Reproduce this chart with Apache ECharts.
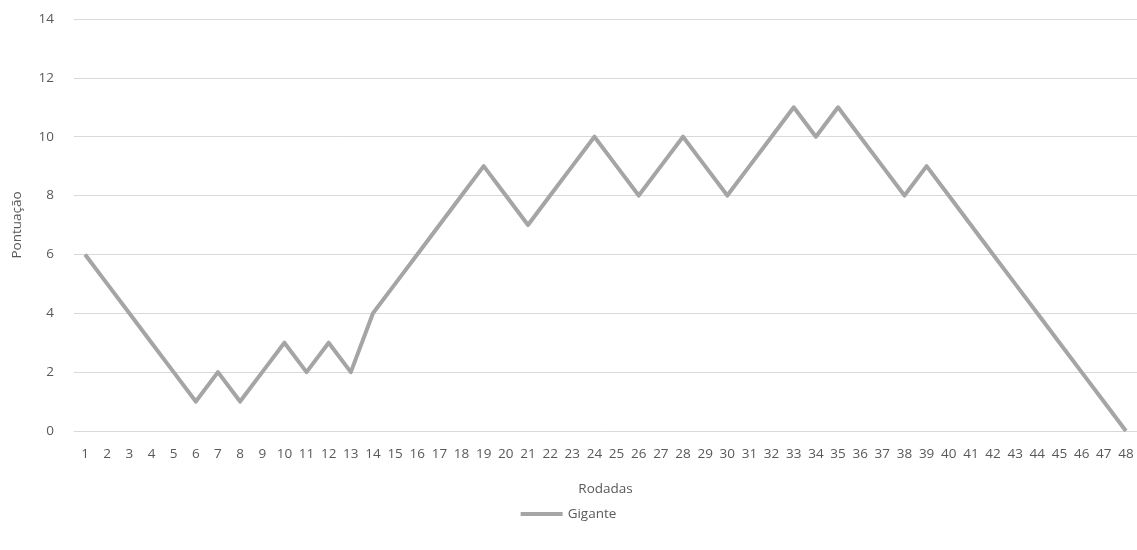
<!DOCTYPE html>
<html>
<head>
<meta charset="utf-8">
<script src="https://cdn.jsdelivr.net/npm/echarts@6/dist/echarts.min.js"></script>
<style>
  html, body { margin: 0; padding: 0; background: #fff; }
  #chart { width: 1137px; height: 550px; }
</style>
</head>
<body>
<div id="chart"></div>
<script>
const rodadas = Array.from({ length: 48 }, (_, i) => String(i + 1));
const gigante = [6, 5, 4, 3, 2, 1, 2, 1, 2, 3, 2, 3, 2, 4, 5, 6, 7, 8, 9, 8,
  7, 8, 9, 10, 9, 8, 9, 10, 9, 8, 9, 10, 11, 10, 11, 10, 9, 8, 9, 8,
  7, 6, 5, 4, 3, 2, 1, 0];
const yTicks = { min: 0, max: 14, interval: 2 };

const chart = echarts.init(document.getElementById('chart'));
const font = '"Open Sans", "Noto Sans", sans-serif';

chart.setOption({
  animation: false,
  textStyle: { fontFamily: font },
  grid: { left: 74, right: 0, top: 19, bottom: 119 },
  legend: {
    bottom: 24,
    left: 'center',
    itemWidth: 42,
    itemHeight: 4,
    itemGap: 4,
    icon: 'rect',
    textStyle: { color: '#595959', fontSize: 13.5, fontFamily: font },
    data: ['Gigante']
  },
  xAxis: {
    type: 'category',
    data: rodadas,
    boundaryGap: true,
    name: 'Rodadas',
    nameLocation: 'middle',
    nameGap: 51,
    nameTextStyle: { color: '#595959', fontSize: 13.5 },
    axisLine: { lineStyle: { color: '#d9d9d9' } },
    axisTick: { show: false },
    axisLabel: { color: '#595959', fontSize: 13.5, interval: 0, margin: 16 }
  },
  yAxis: {
    type: 'value',
    min: yTicks.min,
    max: yTicks.max,
    interval: yTicks.interval,
    name: 'Pontuação',
    nameLocation: 'middle',
    nameGap: 50,
    nameTextStyle: { color: '#595959', fontSize: 13.5 },
    axisLine: { show: false },
    axisTick: { show: false },
    axisLabel: { color: '#595959', fontSize: 13.5, margin: 20 },
    splitLine: { lineStyle: { color: '#d9d9d9', width: 1 } }
  },
  series: [{
    name: 'Gigante',
    type: 'line',
    data: gigante,
    symbol: 'none',
    lineStyle: { color: '#a5a5a5', width: 4, join: 'round' },
    itemStyle: { color: '#a5a5a5' }
  }]
});
</script>
</body>
</html>
